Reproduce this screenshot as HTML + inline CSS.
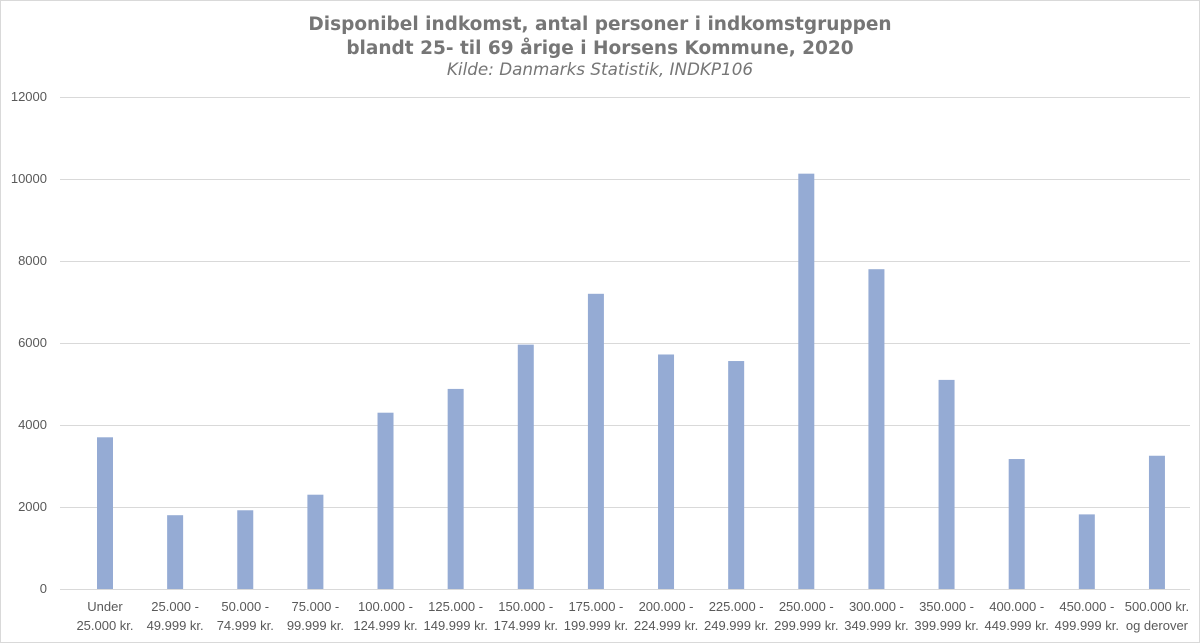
<!DOCTYPE html>
<html><head><meta charset="utf-8"><style>
body{margin:0;background:#fff}
svg{display:block;font-family:"Liberation Sans",sans-serif}
</style></head><body>
<svg width="1200" height="643" xmlns="http://www.w3.org/2000/svg">
<rect x="0.5" y="0.5" width="1199" height="642" fill="#fff" stroke="#d9d9d9"/>
<g font-family="DejaVu Sans, Liberation Sans, sans-serif" fill="#767676" text-anchor="middle">
<text x="600" y="30" font-size="18.5" font-weight="bold">Disponibel indkomst, antal personer i indkomstgruppen</text>
<text x="600" y="54" font-size="18.5" font-weight="bold">blandt 25- til 69 årige i Horsens Kommune, 2020</text>
<text x="600" y="75" font-size="16.8" font-style="italic">Kilde: Danmarks Statistik, INDKP106</text>
</g>
<g stroke="#d9d9d9" stroke-width="1">
<line x1="60" x2="1190" y1="97.5" y2="97.5"/><line x1="60" x2="1190" y1="179.5" y2="179.5"/>
<line x1="60" x2="1190" y1="261.5" y2="261.5"/><line x1="60" x2="1190" y1="343.5" y2="343.5"/>
<line x1="60" x2="1190" y1="425.5" y2="425.5"/><line x1="60" x2="1190" y1="507.5" y2="507.5"/>
<line x1="60" x2="1190" y1="589.5" y2="589.5"/>
</g>
<g font-size="13" fill="#595959" text-anchor="end">
<text x="47" y="101">12000</text><text x="47" y="183">10000</text><text x="47" y="265">8000</text>
<text x="47" y="347">6000</text><text x="47" y="429">4000</text><text x="47" y="511">2000</text><text x="47" y="593">0</text>
</g>
<g fill="#95abd4" id="bars"></g>
<g font-size="13" fill="#595959" text-anchor="middle" id="labels"></g>
<script>
var v=[3700,1800,1920,2300,4300,4880,5960,7200,5720,5560,10130,7800,5100,3170,1820,3250];
var l1=["Under","25.000 -","50.000 -","75.000 -","100.000 -","125.000 -","150.000 -","175.000 -","200.000 -","225.000 -","250.000 -","300.000 -","350.000 -","400.000 -","450.000 -","500.000 kr."];
var l2=["25.000 kr.","49.999 kr.","74.999 kr.","99.999 kr.","124.999 kr.","149.999 kr.","174.999 kr.","199.999 kr.","224.999 kr.","249.999 kr.","299.999 kr.","349.999 kr.","399.999 kr.","449.999 kr.","499.999 kr.","og derover"];
var ns="http://www.w3.org/2000/svg",b=document.getElementById("bars"),t=document.getElementById("labels");
for(var i=0;i<16;i++){var c=105+70.13*i,h=v[i]*0.041;
var r=document.createElementNS(ns,"rect");r.setAttribute("x",c-8);r.setAttribute("width",16);r.setAttribute("y",589-h);r.setAttribute("height",h);b.appendChild(r);
[[l1[i],611],[l2[i],630]].forEach(function(p){var e=document.createElementNS(ns,"text");e.setAttribute("x",c);e.setAttribute("y",p[1]);e.textContent=p[0];t.appendChild(e);});}
</script>
</svg>
</body></html>
